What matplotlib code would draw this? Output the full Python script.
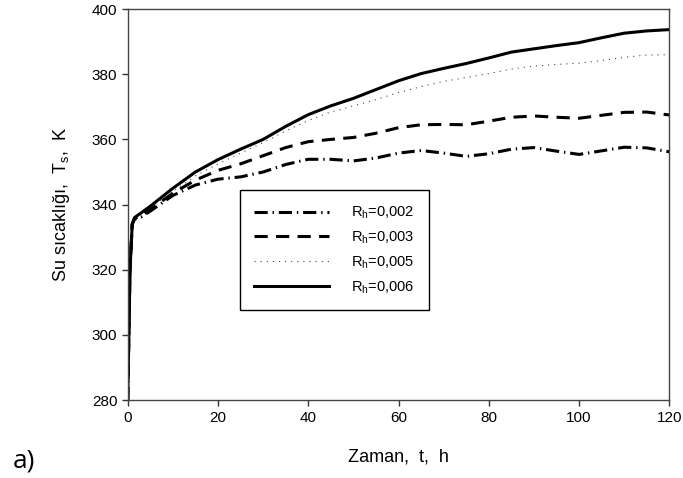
import matplotlib
matplotlib.use("Agg")
import matplotlib.pyplot as plt

plt.rcParams["font.family"] = ["Liberation Sans", "DejaVu Sans"]
plt.rcParams["lines.scale_dashes"] = False

# time, h
t = [0, 0.5, 1, 1.5, 3, 5, 10, 15, 20, 25, 30, 35, 40, 45, 50, 55, 60,
     65, 70, 75, 80, 85, 90, 95, 100, 105, 110, 115, 120]

# water temperature, K, for each Rh
ts_002 = [280, 320, 334, 335.5, 336.2, 338, 342.8, 346, 347.8, 348.5, 350, 352.3,
          353.9, 353.9, 353.4, 354.3, 355.8, 356.6, 355.8, 354.8, 355.6, 357.0,
          357.5, 356.4, 355.4, 356.5, 357.6, 357.4, 356.2]
ts_003 = [280, 320, 334, 335.8, 336.5, 338.5, 343.5, 347.5, 350.5, 352.5, 355, 357.5,
          359.3, 360, 360.6, 361.9, 363.6, 364.5, 364.6, 364.5, 365.6, 366.8,
          367.2, 366.8, 366.5, 367.4, 368.3, 368.4, 367.5]
ts_005 = [280, 320, 334, 336, 337, 339, 344, 348.8, 352.5, 355.8, 359, 362.6,
          365.8, 368.4, 370.3, 372.2, 374.4, 376.2, 377.8, 379, 380.2, 381.6,
          382.5, 383, 383.4, 384.2, 385.2, 385.9, 386]
ts_006 = [280, 320, 334, 336, 337.5, 339.5, 345, 350, 353.8, 357, 360, 364,
          367.6, 370.3, 372.6, 375.3, 378, 380.2, 381.8, 383.3, 385, 386.8,
          387.8, 388.8, 389.7, 391.2, 392.6, 393.3, 393.7]

labels = ["R$_\\mathregular{h}$=0,002", "R$_\\mathregular{h}$=0,003",
          "R$_\\mathregular{h}$=0,005", "R$_\\mathregular{h}$=0,006"]

fig = plt.figure(figsize=(6.83, 4.78), dpi=100)
ax = fig.add_axes([0.187, 0.163, 0.793, 0.818])

ax.plot(t, ts_002, color="black", lw=2.2, linestyle=(0, (9.5, 3.5, 1, 3.5)), label=labels[0])
ax.plot(t, ts_003, color="black", lw=2.2, linestyle=(0, (9.5, 6)), label=labels[1])
ax.plot(t, ts_005, color="#444444", lw=0.8, linestyle=(0, (0.8, 3.6)), label=labels[2])
ax.plot(t, ts_006, color="black", lw=2.2, linestyle="-", label=labels[3])

ax.set_xlim(0, 120)
ax.set_ylim(280, 400)
ax.set_xticks(range(0, 121, 20))
ax.set_yticks(range(280, 401, 20))
ax.tick_params(direction="out", length=4, width=1, labelsize=11, color="#333333")
for sp in ax.spines.values():
    sp.set_color("#444444")
    sp.set_linewidth(1)

ax.set_xlabel("Zaman,  t,  h", fontsize=13, labelpad=17)
ax.set_ylabel("Su sıcaklığı,  T$_\\mathregular{s}$,  K", fontsize=13, labelpad=14)

leg = ax.legend(loc="upper left", bbox_to_anchor=(0.207, 0.537), borderaxespad=0,
                fontsize=10.5, handlelength=5.1, handletextpad=1.5, labelspacing=0.55,
                borderpad=1.0, fancybox=False, framealpha=1, edgecolor="black")
leg.get_frame().set_linewidth(1)

fig.text(0.019, 0.021, "a)", fontsize=19, va="baseline",
         family=["Open Sans", "DejaVu Sans"])

fig.savefig("out.png", dpi=100)
